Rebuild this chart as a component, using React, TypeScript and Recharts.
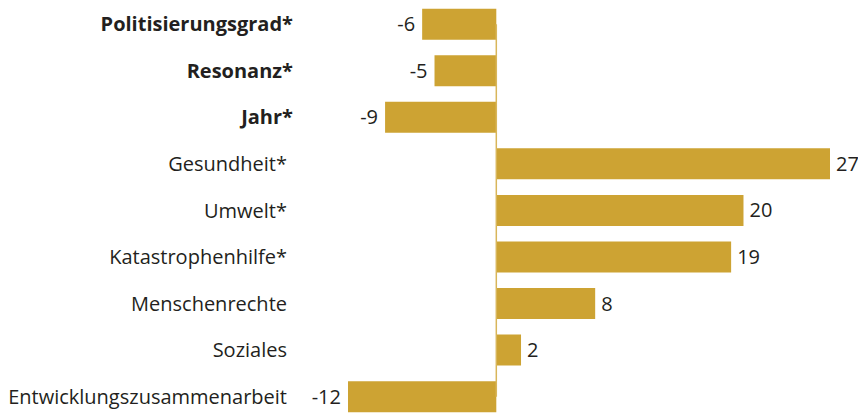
import React from 'react';
import { BarChart, Bar, XAxis, YAxis, ReferenceLine, LabelList } from 'recharts';

const categories = [
  'Politisierungsgrad*',
  'Resonanz*',
  'Jahr*',
  'Gesundheit*',
  'Umwelt*',
  'Katastrophenhilfe*',
  'Menschenrechte',
  'Soziales',
  'Entwicklungszusammenarbeit',
];
const values = [-6, -5, -9, 27, 20, 19, 8, 2, -12];
const boldCategories = ['Politisierungsgrad*', 'Resonanz*', 'Jahr*'];

const data = categories.map((c, i) => ({ name: c, value: values[i] }));

const GOLD = '#CDA333';
const TEXT = '#231f20';
const FONT = '"Open Sans", sans-serif';

const CategoryTick = (props: any) => {
  const { x, y, payload } = props;
  const bold = boldCategories.includes(payload.value);
  return (
    <text
      x={bold ? x - 49 : x - 55}
      y={y}
      dy={7}
      textAnchor="end"
      fontFamily={FONT}
      fontSize={20}
      fontWeight={bold ? 700 : 400}
      fill={TEXT}
    >
      {payload.value}
    </text>
  );
};

const ValueLabel = (props: any) => {
  const { x, y, width, height, value } = props;
  const neg = value < 0;
  const left = Math.min(x, x + width);
  const right = Math.max(x, x + width);
  return (
    <text
      x={neg ? left - 7 : right + 6}
      y={y + height / 2}
      dy={7}
      textAnchor={neg ? 'end' : 'start'}
      fontFamily={FONT}
      fontSize={20}
      fill={TEXT}
    >
      {value}
    </text>
  );
};

export default function App() {
  return (
    <div style={{ position: 'absolute', left: 0, top: 0 }}>
      <BarChart
        width={858}
        height={420}
        data={data}
        layout="vertical"
        margin={{ top: 1, right: 28, bottom: 0, left: 0 }}
        barCategoryGap="16.5%"
      >
        <XAxis type="number" domain={[-12, 27]} hide />
        <YAxis
          type="category"
          dataKey="name"
          width={348}
          axisLine={false}
          tickLine={false}
          tickMargin={0}
          tick={<CategoryTick />}
          interval={0}
        />
        <ReferenceLine
          segment={[
            { x: 0, y: categories[0] },
            { x: 0, y: categories[categories.length - 1] },
          ]}
          stroke="#d8b65a"
          strokeWidth={1.5}
        />
        <Bar dataKey="value" fill={GOLD} isAnimationActive={false}>
          <LabelList dataKey="value" content={<ValueLabel />} />
        </Bar>
      </BarChart>
    </div>
  );
}
